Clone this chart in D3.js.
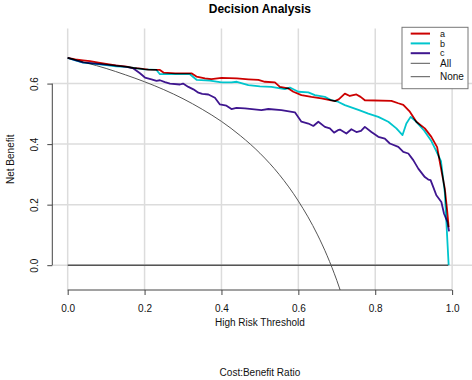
<!DOCTYPE html>
<html>
<head>
<meta charset="utf-8">
<script src="https://cdn.jsdelivr.net/npm/d3@7"></script>
<style>
  body { margin: 0; background: #fff; }
  svg { display: block; font-family: "Liberation Sans", Arial, Helvetica, sans-serif; }
  .model { mix-blend-mode: multiply; }
</style>
</head>
<body>
<svg id="chart" width="472" height="380"></svg>
<script>
// Data: [threshold, net benefit]
const seriesA = [
  [0, 0.685], [0.02, 0.680], [0.04, 0.677], [0.058, 0.674], [0.08, 0.669],
  [0.10, 0.665], [0.125, 0.660], [0.153, 0.656], [0.17, 0.652], [0.184, 0.650],
  [0.21, 0.646], [0.24, 0.645], [0.25, 0.636], [0.28, 0.634], [0.322, 0.634],
  [0.335, 0.623], [0.357, 0.617], [0.374, 0.615], [0.40, 0.619], [0.44, 0.617],
  [0.47, 0.614], [0.496, 0.612], [0.513, 0.606], [0.539, 0.604], [0.552, 0.589],
  [0.574, 0.584], [0.587, 0.573], [0.608, 0.562], [0.634, 0.556], [0.66, 0.551],
  [0.695, 0.542], [0.705, 0.548], [0.721, 0.567], [0.734, 0.559], [0.751, 0.564],
  [0.762, 0.556], [0.773, 0.545], [0.842, 0.543], [0.86, 0.535], [0.873, 0.530],
  [0.89, 0.507], [0.907, 0.474], [0.929, 0.452], [0.946, 0.424], [0.961, 0.390],
  [0.968, 0.341], [0.981, 0.253], [0.987, 0.181], [0.991, 0.126]
];
const seriesB = [
  [0, 0.685], [0.02, 0.677], [0.04, 0.669], [0.07, 0.665], [0.10, 0.661],
  [0.126, 0.657], [0.153, 0.655], [0.18, 0.650], [0.20, 0.647], [0.231, 0.645],
  [0.24, 0.631], [0.28, 0.631], [0.318, 0.631], [0.336, 0.612], [0.37, 0.610],
  [0.40, 0.604], [0.426, 0.604], [0.44, 0.606], [0.47, 0.595], [0.50, 0.591],
  [0.53, 0.589], [0.565, 0.582], [0.578, 0.587], [0.60, 0.573], [0.626, 0.571],
  [0.643, 0.562], [0.669, 0.556], [0.686, 0.545], [0.703, 0.540], [0.721, 0.529],
  [0.758, 0.512], [0.782, 0.501], [0.808, 0.490], [0.834, 0.474], [0.855, 0.452],
  [0.871, 0.430], [0.881, 0.468], [0.892, 0.490], [0.905, 0.476], [0.927, 0.445],
  [0.946, 0.410], [0.957, 0.382], [0.971, 0.344], [0.981, 0.240], [0.991, 0.0]
];
const seriesC = [
  [0, 0.685], [0.04, 0.670], [0.08, 0.665], [0.12, 0.660], [0.153, 0.655],
  [0.171, 0.650], [0.188, 0.634], [0.201, 0.620], [0.218, 0.614], [0.231, 0.609],
  [0.24, 0.611], [0.253, 0.605], [0.266, 0.600], [0.292, 0.597], [0.30, 0.600],
  [0.314, 0.589], [0.327, 0.581], [0.34, 0.570], [0.35, 0.566], [0.366, 0.564],
  [0.383, 0.553], [0.396, 0.531], [0.413, 0.527], [0.426, 0.516], [0.439, 0.520],
  [0.461, 0.518], [0.504, 0.512], [0.522, 0.516], [0.556, 0.512], [0.591, 0.505],
  [0.608, 0.474], [0.626, 0.468], [0.639, 0.460], [0.652, 0.474], [0.669, 0.457],
  [0.682, 0.452], [0.693, 0.438], [0.703, 0.446], [0.708, 0.448], [0.725, 0.435],
  [0.738, 0.449], [0.751, 0.440], [0.763, 0.444], [0.773, 0.457], [0.79, 0.440],
  [0.808, 0.424], [0.825, 0.418], [0.838, 0.402], [0.86, 0.391], [0.873, 0.374],
  [0.886, 0.369], [0.899, 0.347], [0.912, 0.319], [0.929, 0.291], [0.938, 0.283],
  [0.944, 0.281], [0.951, 0.258], [0.959, 0.231], [0.972, 0.209], [0.979, 0.170],
  [0.988, 0.142], [0.992, 0.112]
];
const seriesAll = [
  [0, 0.685], [0.05, 0.668], [0.10, 0.650], [0.15, 0.629], [0.20, 0.606],
  [0.25, 0.580], [0.30, 0.550], [0.35, 0.515], [0.40, 0.475], [0.45, 0.427],
  [0.50, 0.370], [0.55, 0.300], [0.60, 0.212], [0.65, 0.100], [0.675, 0.031],
  [0.70, -0.050], [0.72, -0.125]
];
const seriesNone = [[0, 0], [0.99, 0]];

const legendLabels = ['a', 'b', 'c', 'All', 'None'];
const xTicks = [0, 0.2, 0.4, 0.6, 0.8, 1.0];
const yTicks = [0, 0.2, 0.4, 0.6];

// Styles
const COLORS = { a: '#cc0000', b: '#00c5cd', c: '#3f168f', All: '#555', None: '#555' };
const LEFT = 52.3, RIGHT = 467.5, TOP = 28.5, BOTTOM = 290;

const svg = d3.select('#chart');
const x = d3.scaleLinear([-0.04, 1.04], [LEFT, RIGHT]);
const y = d3.scaleLinear([-0.082, 0.782], [BOTTOM, TOP]);

svg.append('rect').attr('width', 472).attr('height', 380).attr('fill', '#fff');

// Grid
const grid = svg.append('g').attr('stroke', '#dcdcdc').attr('stroke-width', 1.5);
grid.selectAll('.vg').data(xTicks).join('line')
  .attr('x1', (d) => x(d)).attr('x2', (d) => x(d))
  .attr('y1', TOP).attr('y2', BOTTOM);
grid.selectAll('.hg').data(yTicks).join('line')
  .attr('x1', LEFT).attr('x2', 472)
  .attr('y1', (d) => y(d)).attr('y2', (d) => y(d));

// Clip to plot region
svg.append('clipPath').attr('id', 'plot-clip')
  .append('rect')
  .attr('x', LEFT).attr('y', TOP)
  .attr('width', 472 - LEFT).attr('height', BOTTOM - TOP);

const plot = svg.append('g').attr('clip-path', 'url(#plot-clip)');
const line = d3.line().x((d) => x(d[0])).y((d) => y(d[1]));

plot.append('path').datum(seriesNone)
  .attr('d', line).attr('fill', 'none')
  .attr('stroke', COLORS.None).attr('stroke-width', 1.5);
plot.append('path').datum(seriesAll)
  .attr('d', line.curve(d3.curveMonotoneX)).attr('fill', 'none')
  .attr('stroke', COLORS.All).attr('stroke-width', 1);
line.curve(d3.curveLinear);

[['a', seriesA], ['b', seriesB], ['c', seriesC]].forEach(([key, data]) => {
  plot.append('path').datum(data)
    .attr('class', 'model')
    .attr('d', line).attr('fill', 'none')
    .attr('stroke', COLORS[key]).attr('stroke-width', 1.8)
    .attr('stroke-linejoin', 'round');
});

// Axes (R style: line spans first to last tick)
const xAxis = d3.axisBottom(x).tickValues(xTicks).tickFormat(d3.format('.1f'))
  .tickSize(5).tickPadding(10);
const gx = svg.append('g').attr('transform', `translate(0,${BOTTOM})`).call(xAxis);
gx.select('.domain').remove();
gx.append('line').attr('x1', x(0)).attr('x2', x(1)).attr('stroke', '#444');
gx.selectAll('.tick line').attr('stroke', '#444');
gx.selectAll('text').attr('font-size', 10).attr('fill', '#111')
  .attr('font-family', '"Liberation Sans", Arial, sans-serif');

const yAxis = d3.axisLeft(y).tickValues(yTicks).tickFormat(d3.format('.1f')).tickSize(5);
const gy = svg.append('g').attr('transform', `translate(${LEFT},0)`).call(yAxis);
gy.select('.domain').remove();
gy.append('line').attr('y1', y(0)).attr('y2', y(0.6)).attr('stroke', '#444');
gy.selectAll('.tick line').attr('stroke', '#444');
gy.selectAll('text')
  .attr('x', null).attr('dy', null)
  .attr('transform', 'translate(-14.6,0) rotate(-90)')
  .attr('text-anchor', 'middle')
  .attr('font-size', 10).attr('fill', '#111')
  .attr('font-family', '"Liberation Sans", Arial, sans-serif');

// Titles
const cx = (LEFT + RIGHT) / 2;
svg.append('text').attr('x', cx).attr('y', 13).attr('text-anchor', 'middle')
  .attr('font-size', 12).attr('font-weight', 'bold').text('Decision Analysis');
svg.append('text').attr('x', cx).attr('y', 326).attr('text-anchor', 'middle')
  .attr('font-size', 10).attr('fill', '#111').text('High Risk Threshold');
svg.append('text').attr('x', cx).attr('y', 375.5).attr('text-anchor', 'middle')
  .attr('font-size', 10).attr('fill', '#111').text('Cost:Benefit Ratio');
svg.append('text')
  .attr('transform', `translate(13.5,${(TOP + BOTTOM) / 2}) rotate(-90)`)
  .attr('text-anchor', 'middle').attr('font-size', 10).attr('fill', '#111')
  .text('Net Benefit');

// Legend
const legendRowY = [33.6, 43.4, 53.2, 63.3, 76.7];
const legend = svg.append('g');
legend.append('rect')
  .attr('x', 402).attr('y', 27.3).attr('width', 66).attr('height', 61.4)
  .attr('fill', '#fff').attr('stroke', '#777');
const rows = legend.selectAll('g.row').data(legendLabels).join('g')
  .attr('transform', (d, i) => `translate(0,${legendRowY[i]})`);
rows.append('line')
  .attr('x1', 410.7).attr('x2', 430)
  .attr('stroke', (d) => COLORS[d])
  .attr('stroke-width', (d) => (d.length === 1 ? 2 : 1));
rows.append('text')
  .attr('x', 440).attr('dy', '0.35em')
  .attr('font-size', (d) => (d.length === 1 ? 9 : 10)).attr('fill', '#111')
  .text((d) => d);
</script>
</body>
</html>
